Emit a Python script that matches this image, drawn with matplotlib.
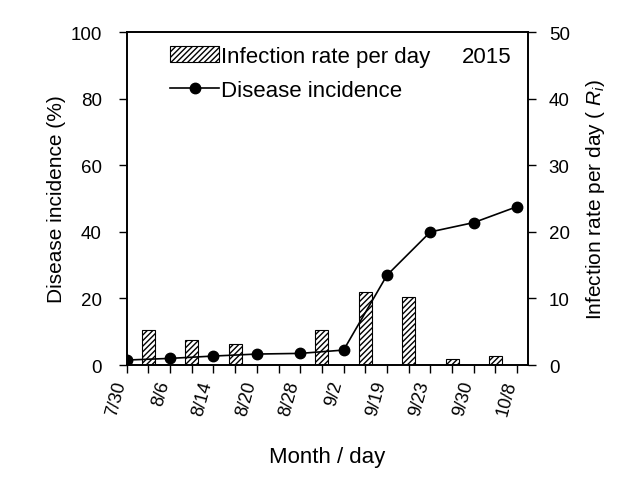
import numpy as np
import matplotlib
matplotlib.use("Agg")
import matplotlib.pyplot as plt

plt.rcParams['font.family'] = ['Liberation Sans', 'DejaVu Sans']
plt.rcParams['mathtext.fontset'] = 'custom'
plt.rcParams['mathtext.it'] = 'Liberation Sans:italic'
plt.rcParams['mathtext.rm'] = 'Liberation Sans'
plt.rcParams['hatch.linewidth'] = 1.0

# dates sampled for disease incidence (even positions)
inc_pos = [0, 2, 4, 6, 8, 10, 12, 14, 16, 18]
inc_labels = ["7/30", "8/6", "8/14", "8/20", "8/28", "9/2", "9/19", "9/23", "9/30", "10/8"]
incidence = [1.5, 2.0, 2.7, 3.3, 3.5, 4.5, 27.0, 40.0, 42.8, 47.6]

# infection rate per day between sampling dates (odd positions)
rate_pos = [1, 3, 5, 7, 9, 11, 13, 15, 17]
rate = [5.3, 3.8, 3.1, 0.0, 5.3, 10.9, 10.2, 0.9, 1.3]

fig = plt.figure(figsize=(6.4, 4.81), dpi=100)
ax = fig.add_axes([0.198, 0.239, 0.627, 0.692])
ax2 = ax.twinx()

bars = ax2.bar(rate_pos, rate, width=0.6, facecolor='white', edgecolor='black',
               hatch='//////', linewidth=0.8, label="Infection rate per day", zorder=2)
line, = ax.plot(inc_pos, incidence, color='black', marker='o', markersize=7.5,
                linewidth=1.2, label="Disease incidence", zorder=3)

ax.set_zorder(ax2.get_zorder() + 1)
ax.patch.set_visible(False)

ax.set_xlim(0, 18.5)
ax.set_ylim(0, 100)
ax2.set_ylim(0, 50)
ax.set_yticks(np.arange(0, 101, 20))
ax2.set_yticks(np.arange(0, 51, 10))
ax.set_xticks(np.arange(0, 19))
ax.set_xticklabels([""] * 19)
for p, lab in zip(inc_pos, inc_labels):
    ax.text(p + 0.1, -4, lab, rotation=75, ha='right', va='top',
            fontsize=13, transform=ax.transData)

for a in (ax, ax2):
    a.tick_params(direction='out', length=6, width=1, labelsize=13.5)
    for s in a.spines.values():
        s.set_linewidth(1.2)
ax.tick_params(axis='y', pad=12)
ax2.tick_params(axis='y', pad=9)

ax.set_xlabel("Month / day", fontsize=16, labelpad=49)
ax.set_ylabel("Disease incidence (%)", fontsize=15, labelpad=3)
ax2.set_ylabel("Infection rate per day ( $R_i$)", fontsize=15, labelpad=10)

ax.legend([bars, line], ["Infection rate per day", "Disease incidence"],
          loc='upper left', bbox_to_anchor=(0.075, 1.0), frameon=False,
          fontsize=16, handlelength=2.2, handletextpad=0.1, labelspacing=0.6,
          borderaxespad=0.2)
ax.text(0.96, 0.96, "2015", transform=ax.transAxes, ha='right', va='top', fontsize=16)

fig.savefig("out.png", dpi=100)
